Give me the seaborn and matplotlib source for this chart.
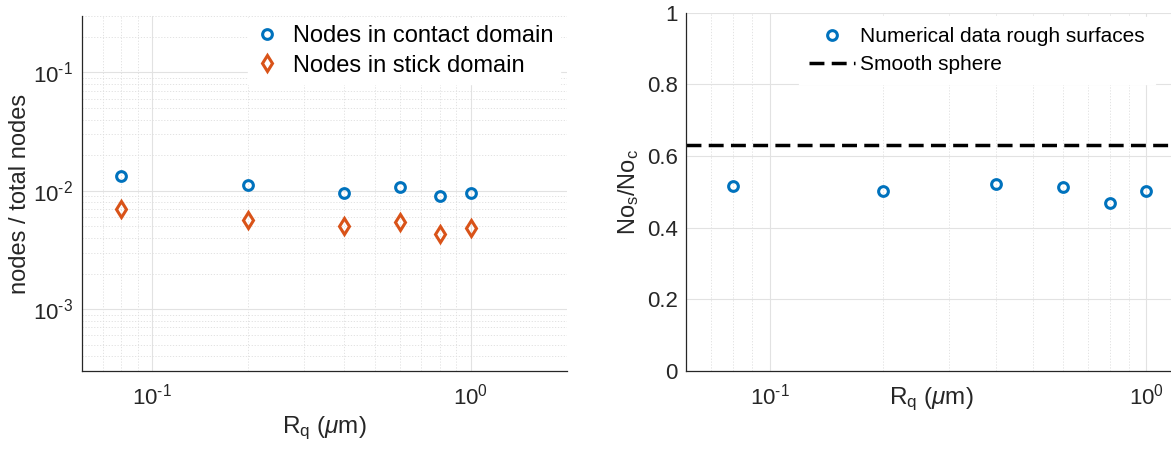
import numpy as np
import pandas as pd
import matplotlib
matplotlib.use("Agg")
import matplotlib.pyplot as plt
import seaborn as sns
from matplotlib.ticker import LogLocator, FixedLocator, NullFormatter, FuncFormatter

# ---- data ----
rq = [0.08, 0.2, 0.4, 0.6, 0.8, 1.0]
contact_frac = [0.01345, 0.0113, 0.0096, 0.0107, 0.0091, 0.0096]
stick_frac = [0.00695, 0.00565, 0.00503, 0.0055, 0.0043, 0.00483]
ratio = [0.515, 0.502, 0.521, 0.514, 0.469, 0.503]
smooth_ratio = 0.63
ratio_yticks = [0, 0.2, 0.4, 0.6, 0.8, 1]
ratio_yticklabels = ["0", "0.2", "0.4", "0.6", "0.8", "1"]

sns.set_theme(style="white")
plt.rcParams["font.family"] = ["Liberation Sans", "DejaVu Sans"]
plt.rcParams["mathtext.fontset"] = "custom"
plt.rcParams["mathtext.rm"] = "Liberation Sans"
plt.rcParams["mathtext.it"] = "Liberation Sans:italic"
plt.rcParams["mathtext.default"] = "regular"

BLUE = "#0072BD"
ORANGE = "#D95319"
DARK = "#262626"

fig = plt.figure(figsize=(11.71, 4.5), dpi=100)
axL = fig.add_axes([81.7 / 1171, 79 / 450, 485 / 1171, 355 / 450])
axR = fig.add_axes([686 / 1171, 79 / 450, 490 / 1171, 358.3 / 450])

df = pd.DataFrame({"rq": rq, "contact": contact_frac, "stick": stick_frac, "ratio": ratio})

sns.lineplot(data=df, x="rq", y="contact", ax=axL, marker="o", linestyle="none",
             markerfacecolor="none", markeredgecolor=BLUE, markeredgewidth=2.2,
             markersize=7, color=BLUE, label="Nodes in contact domain")
sns.lineplot(data=df, x="rq", y="stick", ax=axL, marker="d", linestyle="none",
             markerfacecolor="none", markeredgecolor=ORANGE, markeredgewidth=2.2,
             markersize=8, color=ORANGE, label="Nodes in stick domain")

sns.lineplot(data=df, x="rq", y="ratio", ax=axR, marker="o", linestyle="none",
             markerfacecolor="none", markeredgecolor=BLUE, markeredgewidth=2.2,
             markersize=7, color=BLUE, label="Numerical data rough surfaces")
axR.axhline(smooth_ratio, color="black", lw=2.5, linestyle=(0, (4.3, 2.1)),
            label="Smooth sphere")


def logfmt(v, pos):
    e = int(round(np.log10(v)))
    s = str(e).replace("-", "\u2010")
    return r"10$^{%s}$" % s

for ax in (axL, axR):
    ax.set_xscale("log")
    ax.xaxis.set_major_locator(LogLocator(base=10, numticks=10))
    ax.xaxis.set_minor_locator(LogLocator(base=10, subs=np.arange(2, 10), numticks=20))
    ax.xaxis.set_major_formatter(FuncFormatter(logfmt))
    ax.xaxis.set_minor_formatter(NullFormatter())
    for s in ("top", "right"):
        ax.spines[s].set_visible(False)
    for s in ("left", "bottom"):
        ax.spines[s].set_color(DARK)
        ax.spines[s].set_linewidth(0.9)
    ax.tick_params(which="major", direction="in", length=5, width=0.8, color=DARK,
                   labelsize=16, labelcolor=DARK, pad=9)
    ax.tick_params(which="minor", direction="in", length=3, width=0.6, color=DARK)
    ax.grid(which="major", color="#e2e2e2", lw=0.8, ls="-")
    ax.grid(which="minor", color="#dedede", lw=0.6, ls=(0, (1.5, 2)))
    ax.set_axisbelow(True)

axL.set_xlim(0.06, 2)
axR.set_xlim(0.06, 1.2)

axL.set_yscale("log")
axL.set_ylim(3e-4, 0.3)
axL.yaxis.set_major_locator(LogLocator(base=10, numticks=10))
axL.yaxis.set_minor_locator(LogLocator(base=10, subs=np.arange(2, 10), numticks=20))
axL.yaxis.set_major_formatter(FuncFormatter(logfmt))
axL.yaxis.set_minor_formatter(NullFormatter())
axL.tick_params(axis="y", which="major", pad=6)

axR.set_ylim(0, 1)
axR.yaxis.set_major_locator(FixedLocator(ratio_yticks))
axR.set_yticklabels(ratio_yticklabels)
axR.grid(axis="y", which="minor", visible=False)
axR.tick_params(axis="y", which="major", pad=6)

axL.set_xlabel(r"R$_q$ ($\mathit{\mu}$m)", fontsize=17.5, color=DARK, labelpad=4)
axR.set_xlabel(r"R$_q$ ($\mathit{\mu}$m)", fontsize=17.5, color=DARK, labelpad=-17)
axL.set_ylabel("nodes / total nodes", fontsize=17, color=DARK, labelpad=2)
axR.set_ylabel(r"No$_s$/No$_c$", fontsize=17, color=DARK, labelpad=4)

legL = axL.legend(loc="upper right", bbox_to_anchor=(0.992, 1.0), fontsize=17,
                  frameon=True, facecolor="white", edgecolor="white", framealpha=1,
                  fancybox=False, handlelength=1.0, handletextpad=0.6,
                  labelspacing=0.3, borderpad=0.3, borderaxespad=0.1)
legR = axR.legend(loc="upper left", bbox_to_anchor=(0.222, 1.0), fontsize=15,
                  frameon=True, facecolor="white", edgecolor="white", framealpha=1,
                  fancybox=False, handlelength=2.2, handletextpad=0.25,
                  labelspacing=0.42, borderpad=0.5, borderaxespad=0.2)
for leg in (legL, legR):
    for t in leg.get_texts():
        t.set_color("black")

fig.savefig("out.png", dpi=100)
